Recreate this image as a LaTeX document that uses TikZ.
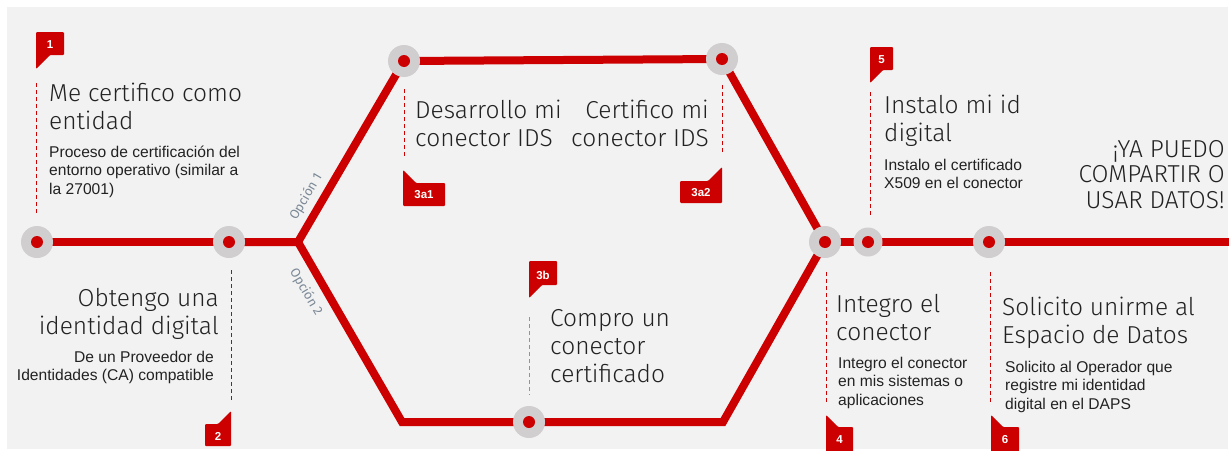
\documentclass[tikz,border=0pt]{standalone}
\usepackage{fontspec}
\newfontfamily\titlefont{Fira Sans Light}
\newfontfamily\optfont{Fira Sans}
\newfontfamily\subfont{Liberation Sans}
\definecolor{tred}{HTML}{CC0000}
\definecolor{tgray}{HTML}{D0CECF}
\definecolor{tbg}{HTML}{F2F2F2}
\definecolor{tdark}{HTML}{222222}
\definecolor{topt}{HTML}{7B8896}
\pgfdeclarelayer{bglayer}
\pgfdeclarelayer{tracklayer}
\pgfsetlayers{bglayer,tracklayer,main}
\tikzset{
  track/.style={draw=tred, line width=8pt, line join=miter},
  stop/.style={circle, fill=tgray, minimum size=32pt, inner sep=0pt,
    path picture={\fill[tred] (path picture bounding box.center) circle (6pt);}},
  title/.style={font=\titlefont\fontsize{24.5}{28}\selectfont, text=tdark, inner sep=0pt},
  sub/.style={font=\subfont\fontsize{15.6}{18.5}\selectfont, text=tdark, inner sep=0pt},
  guide/.style={draw=tred, line width=1pt, dash pattern=on 4pt off 3pt},
  flagshape/.style={fill=tred, rounded corners=1pt},
  flagtext/.style={font=\subfont\bfseries\fontsize{11.5}{12}\selectfont, text=white, inner sep=0pt},
  opt/.style={font=\optfont\fontsize{13}{13}\selectfont, text=topt, inner sep=0pt}
}
\begin{document}
\begin{tikzpicture}[x=1pt,y=-1pt]
\useasboundingbox (0,0) rectangle (1229,450);
\begin{pgfonlayer}{bglayer}
  \fill[white] (0,0) rectangle (1229,450);
  \fill[tbg] (7,7) rectangle (1228,449);
\end{pgfonlayer}

% stops
\node[stop] (s1) at (37,242) {};
\node[stop] (s2) at (229,242) {};
\node[stop] (s3a1) at (404,61) {};
\node[stop] (s3a2) at (722,59) {};
\node[stop] (s3b) at (529,422) {};
\node[stop] (s4) at (825,242) {};
\node[stop, minimum size=29pt] (s5) at (868,242) {};
\node[stop] (s6) at (989,242) {};
\coordinate (br) at (298,242);
\coordinate (c1) at (402,422);
\coordinate (c2) at (723,422);
\coordinate (rend) at (1229,242);

\begin{pgfonlayer}{tracklayer}
  \draw[track] (s1.center) -- (s2.center);
  \draw[track] (s2.center) -- (br) -- (s3a1.center) -- (s3a2.center) -- (s4.center);
  \draw[track] (br) -- (c1) -- (s3b.center) -- (c2) -- (s4.center);
  \draw[track] (s4.center) -- (s5.center) -- (s6.center) -- (rend);
\end{pgfonlayer}

% option labels
\node[opt, rotate=59.5] (o1) at (306,197) {Opción 1};
\node[opt, rotate=-59.5] (o2) at (306,292) {Opción 2};

% flags (top type, tail down-left)
\fill[flagshape] (36,32) -- (64,32) -- (64,55) -- (50,55) -- (36,69) -- cycle;
\node[flagtext] (f1) at (50,45) {1};
\fill[flagshape] (870,47) -- (893,47) -- (893,70) -- (883,70) -- (870,83) -- cycle;
\node[flagtext] (f5) at (881.5,60) {5};
\fill[flagshape] (529,261) -- (557,261) -- (557,285) -- (542,285) -- (529,298) -- cycle;
\node[flagtext] (f3b) at (543,275) {3b};
% flags (bottom type)
\fill[flagshape] (403,170) -- (416,183) -- (445,183) -- (445,206) -- (403,206) -- cycle;
\node[flagtext] (f3a1) at (424,195) {3a1};
\fill[flagshape] (722,167) -- (722,203) -- (680,203) -- (680,181) -- (708,181) -- cycle;
\node[flagtext] (f3a2) at (701,192.5) {3a2};
\fill[flagshape] (231,411) -- (231,446) -- (205,446) -- (205,424) -- (218,424) -- cycle;
\node[flagtext] (f2) at (218,436) {2};
\fill[flagshape] (826,415) -- (838,427) -- (853,427) -- (853,452) -- (826,452) -- cycle;
\node[flagtext] (f4) at (839.5,440) {4};
\fill[flagshape] (991,415) -- (1003,427) -- (1019,427) -- (1019,452) -- (991,452) -- cycle;
\node[flagtext] (f6) at (1005,440) {6};

% guides
\coordinate (g1a) at (36,83);   \coordinate (g1b) at (36,214);
\coordinate (g2a) at (231,270); \coordinate (g2b) at (231,402);
\coordinate (g3a) at (404,89);  \coordinate (g3b) at (404,158);
\coordinate (g4a) at (722,85);  \coordinate (g4b) at (722,153);
\coordinate (g5a) at (529,317); \coordinate (g5b) at (529,395);
\coordinate (g6a) at (870,92);  \coordinate (g6b) at (870,215);
\coordinate (g7a) at (826,272); \coordinate (g7b) at (826,403);
\coordinate (g8a) at (990,272); \coordinate (g8b) at (990,403);
\draw[guide] (g1a) -- (g1b);
\draw[guide] (g2a) -- (g2b);
\draw[guide] (g3a) -- (g3b);
\draw[guide] (g4a) -- (g4b);
\draw[guide, draw=tred!55] (g5a) -- (g5b);
\draw[guide] (g6a) -- (g6b);
\draw[guide] (g7a) -- (g7b);
\draw[guide] (g8a) -- (g8b);

% texts (anchor = baseline of the last line)
\node[title, anchor=base west, align=left] (t1) at (49,129) {Me certifico como\\entidad};
\node[sub, anchor=base west, align=left] (d1) at (49,194) {Proceso de certificación del\\entorno operativo (similar a\\la 27001)};
\node[title, anchor=base east, align=right] (t2) at (219,334) {Obtengo una\\identidad digital};
\node[sub, anchor=base east, align=right] (d2) at (214,380.5) {De un Proveedor de\\Identidades (CA) compatible};
\node[title, anchor=base west, align=left] (t3a1) at (415,146) {Desarrollo mi\\conector IDS};
\node[title, anchor=base east, align=right] (t3a2) at (709,146) {Certifico mi\\conector IDS};
\node[title, anchor=base west, align=left] (t3b) at (550,382) {Compro un\\conector\\certificado};
\node[title, anchor=base west, align=left] (t5) at (884,141) {Instalo mi id\\digital};
\node[sub, anchor=base west, align=left] (d5) at (884,188.5) {Instalo el certificado\\X509 en el conector};
\node[title, anchor=base east, align=right, font=\titlefont\fontsize{24.5}{25.5}\selectfont] (tya) at (1225,208) {¡YA PUEDO\\COMPARTIR O\\USAR DATOS!};
\node[title, anchor=base west, align=left] (t4) at (836,340) {Integro el\\conector};
\node[sub, anchor=base west, align=left] (d4) at (838,405) {Integro el conector\\en mis sistemas o\\aplicaciones};
\node[title, anchor=base west, align=left] (t6) at (1002,343) {Solicito unirme al\\Espacio de Datos};
\node[sub, anchor=base west, align=left] (d6) at (1005,409) {Solicito al Operador que\\registre mi identidad\\digital en el DAPS};
\end{tikzpicture}
\end{document}
